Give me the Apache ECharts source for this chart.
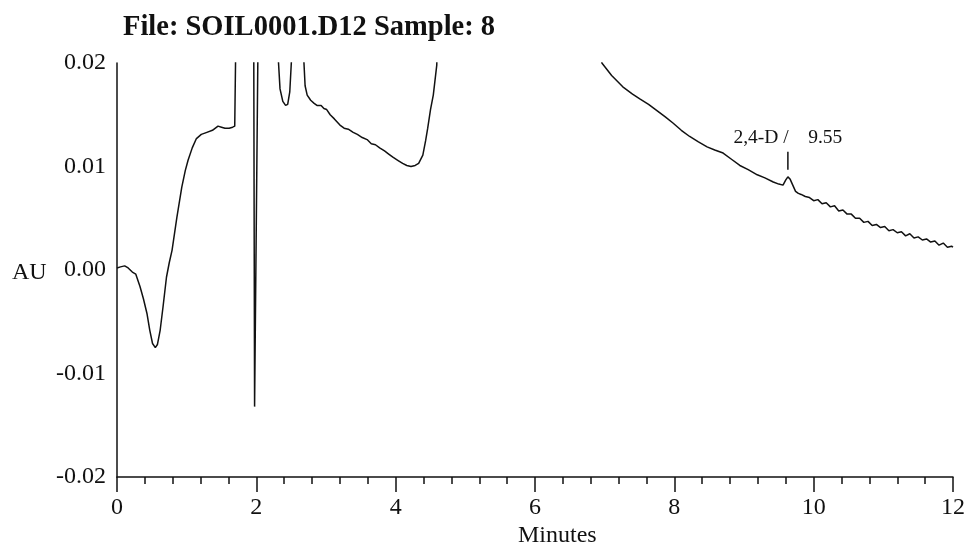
<!DOCTYPE html>
<html>
<head>
<meta charset="utf-8">
<script src="https://cdn.jsdelivr.net/npm/echarts@6/dist/echarts.min.js"></script>
<style>
  html, body { margin: 0; padding: 0; background: #fff; }
  #chart { width: 969px; height: 548px; }
</style>
</head>
<body>
<div id="chart"></div>
<script>
// retention time (min) and absorbance (AU); values above 0.02 run off the top of the plot
const minutes = [
  0.00, 0.05, 0.11, 0.16, 0.22, 0.27, 0.33, 0.38, 0.43, 0.47, 0.51, 0.55, 0.58, 0.62, 0.66,
  0.71, 0.75, 0.79, 0.86, 0.93, 0.98, 1.02, 1.08, 1.14, 1.21, 1.29, 1.37, 1.45, 1.50, 1.55,
  1.61, 1.66, 1.69, 1.72, 1.96, 1.975, 2.035, 2.30, 2.31, 2.34, 2.38, 2.42, 2.45, 2.48, 2.51,
  2.55, 2.66, 2.68, 2.70, 2.73, 2.78, 2.83, 2.87, 2.93, 2.97, 3.01, 3.06, 3.12, 3.16, 3.20,
  3.26, 3.32, 3.39, 3.45, 3.52, 3.59, 3.65, 3.71, 3.77, 3.84, 3.90, 3.96, 4.03, 4.10, 4.16,
  4.22, 4.28, 4.33, 4.39, 4.43, 4.46, 4.50, 4.54, 4.59, 4.62, 6.93, 6.96, 7.10, 7.26, 7.40,
  7.51, 7.63, 7.75, 7.87, 7.98, 8.10, 8.22, 8.34, 8.47, 8.58, 8.70, 8.82, 8.94, 9.06, 9.19,
  9.30, 9.42, 9.50, 9.56, 9.60, 9.63, 9.66, 9.70, 9.74, 9.78, 9.82, 9.88, 9.94, 10.00, 10.06,
  10.12, 10.18, 10.24, 10.30, 10.36, 10.42, 10.48, 10.54, 10.60, 10.66, 10.72, 10.78, 10.84, 10.90, 10.96,
  11.02, 11.08, 11.14, 11.20, 11.26, 11.32, 11.38, 11.44, 11.50, 11.56, 11.62, 11.68, 11.74, 11.80, 11.86,
  11.92, 11.98, 12.00
];
const au = [
  0.0002, 0.0003, 0.0004, 0.0002, -0.0002, -0.0004, -0.0016, -0.0028, -0.0042, -0.0058, -0.0071, -0.0075, -0.0072, -0.0058, -0.0036,
  -0.0007, 0.0007, 0.0019, 0.0051, 0.0080, 0.0096, 0.0106, 0.0118, 0.0127, 0.0131, 0.0133, 0.0135, 0.0139, 0.0138, 0.0137,
  0.0137, 0.0138, 0.0139, 0.030, 0.030, -0.0132, 0.030, 0.030, 0.021, 0.0175, 0.0163, 0.0159, 0.0160, 0.0172, 0.021,
  0.030, 0.030, 0.0205, 0.0178, 0.0169, 0.0164, 0.0161, 0.0159, 0.0159, 0.0156, 0.0155, 0.0150, 0.0146, 0.0143, 0.0140,
  0.0137, 0.0136, 0.0133, 0.0131, 0.0128, 0.0126, 0.0122, 0.0121, 0.0118, 0.0115, 0.0112, 0.0109, 0.0106, 0.0103, 0.0101,
  0.0100, 0.0101, 0.0103, 0.0111, 0.0125, 0.0137, 0.0155, 0.0169, 0.0198, 0.030, 0.030, 0.0200, 0.0188, 0.0177, 0.0170,
  0.0165, 0.0160, 0.0154, 0.0148, 0.0142, 0.0135, 0.0129, 0.0124, 0.0119, 0.0116, 0.0113, 0.0107, 0.0101, 0.0097, 0.0092,
  0.0089, 0.0085, 0.0083, 0.0082, 0.0087, 0.0090, 0.0088, 0.0082, 0.0076, 0.0074, 0.0073, 0.0071, 0.0070, 0.0067, 0.0068,
  0.0064, 0.0065, 0.0061, 0.0062, 0.0057, 0.0058, 0.0054, 0.0054, 0.0050, 0.0050, 0.0046, 0.0047, 0.0043, 0.0044, 0.0041,
  0.0042, 0.0038, 0.0039, 0.0036, 0.0037, 0.0033, 0.0035, 0.0031, 0.0032, 0.0029, 0.0030, 0.0027, 0.0028, 0.0024, 0.0026,
  0.0022, 0.0023, 0.0022
];
const xTicks = [0, 2, 4, 6, 8, 10, 12];
const yTicks = [-0.02, -0.01, 0.00, 0.01, 0.02];
const peakTime = 9.63;
const peakAU = 0.0090;
const peakLabel = '2,4-D /    9.55';

const serif = '"Liberation Serif", "DejaVu Serif", serif';

const chart = echarts.init(document.getElementById('chart'));

chart.setOption({
  animation: false,
  backgroundColor: '#fff',
  title: {
    text: 'File: SOIL0001.D12 Sample: 8',
    left: 118,
    top: 8,
    textStyle: { fontFamily: serif, fontSize: 28.5, fontWeight: 'bold', color: '#111' }
  },
  grid: { left: 117, right: 16, top: 63, bottom: 71 },
  xAxis: {
    type: 'value',
    min: xTicks[0],
    max: xTicks[xTicks.length - 1],
    interval: 2,
    axisLine: { onZero: false, lineStyle: { color: '#111', width: 1.5 } },
    axisTick: { show: true, length: 15, lineStyle: { color: '#111', width: 1.5 } },
    minorTick: { show: true, splitNumber: 5, length: 7, lineStyle: { color: '#111', width: 1.5 } },
    splitLine: { show: false },
    axisLabel: { margin: 19, fontFamily: serif, fontSize: 24, color: '#111' }
  },
  yAxis: {
    type: 'value',
    min: yTicks[0],
    max: yTicks[yTicks.length - 1],
    interval: 0.01,
    axisLine: { show: true, lineStyle: { color: '#111', width: 1.5 } },
    axisTick: { show: false },
    splitLine: { show: false },
    axisLabel: {
      margin: 11,
      fontFamily: serif,
      fontSize: 24,
      color: '#111',
      padding: [0, 0, 10, 0],
      formatter: (v) => v.toFixed(2)
    }
  },
  graphic: [
    {
      type: 'text',
      left: 12,
      top: 261,
      style: { text: 'AU', font: '24px ' + serif, fill: '#111' }
    },
    {
      type: 'text',
      left: 518,
      top: 524,
      style: { text: 'Minutes', font: '24px ' + serif, fill: '#111' }
    }
  ],
  series: [
    {
      type: 'line',
      data: minutes.map((t, i) => [t, au[i]]),
      showSymbol: false,
      clip: true,
      lineStyle: { color: '#111', width: 1.5 },
      markPoint: {
        symbol: 'rect',
        symbolSize: [1.5, 18],
        symbolOffset: [0, -16],
        itemStyle: { color: '#111' },
        label: {
          show: true,
          position: 'top',
          distance: 4,
          formatter: peakLabel,
          fontFamily: serif,
          fontSize: 19.5,
          color: '#111'
        },
        data: [{ coord: [peakTime, peakAU] }]
      }
    }
  ]
});
</script>
</body>
</html>
